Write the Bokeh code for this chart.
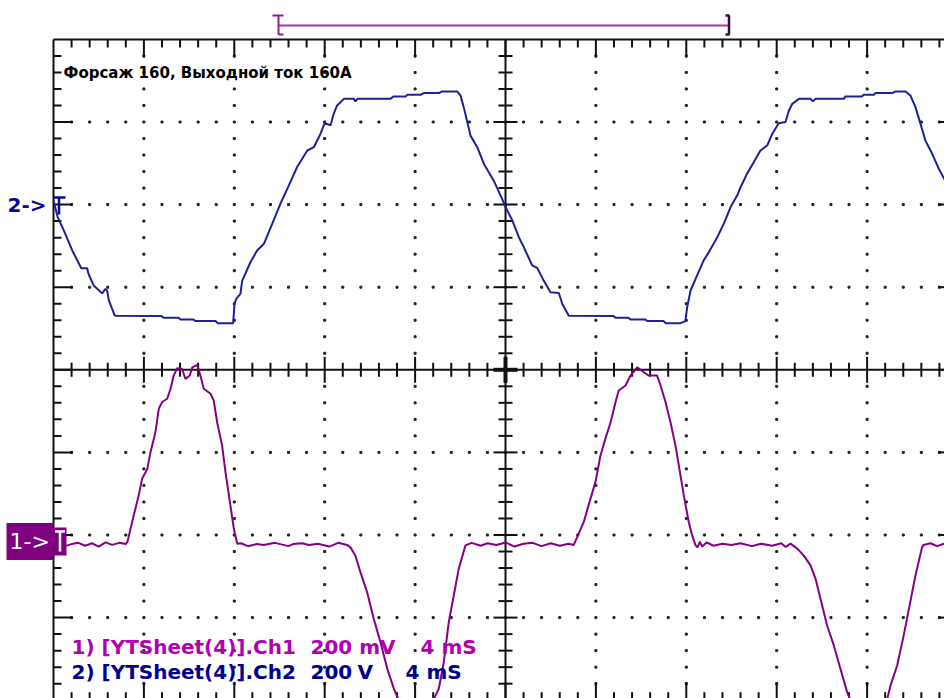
from bokeh.plotting import figure
from bokeh.models import Range1d
from bokeh.core.properties import value
from bokeh.embed import file_html
from bokeh.resources import INLINE

# ---------------- channel data ----------------
# Ch2: output voltage, 200 V/div, time in ms (4 ms/div)
ch2_t = [0.00, 0.19, 0.46, 0.83, 1.23, 1.49, 1.55, 1.78, 2.15, 2.30, 2.37, 2.45, 2.71,
         4.78, 4.87, 5.53, 5.62, 6.19, 6.28, 7.17, 7.26, 7.95,
         8.01, 8.10, 8.27, 8.35, 8.72, 9.01, 9.31, 9.68, 10.04, 10.41, 10.78, 11.23,
         11.52, 11.81, 12.00, 12.26, 12.40, 12.55, 12.85, 13.29, 13.36, 13.45, 14.91,
         15.04, 15.58, 15.66, 16.24, 16.39, 17.05, 17.20, 17.86,
         18.01, 18.15, 18.31, 18.45, 18.75, 19.04, 19.48, 19.85, 20.00,
         20.30, 20.59, 20.81, 21.18, 21.40, 21.69, 21.99, 22.36, 22.51, 22.80,
         24.78, 24.87, 25.44, 25.53, 26.19, 26.27, 27.00, 27.08, 27.74, 27.96,
         28.04, 28.19, 28.41, 28.77, 29.00, 29.37, 29.66, 29.96, 30.25, 30.40, 30.69,
         30.99, 31.28, 31.58, 31.80, 32.09, 32.39, 32.54, 32.69, 32.98, 33.50, 33.60,
         33.72, 34.97, 35.04, 35.78, 35.85, 36.30, 36.37, 37.11, 37.26, 37.70,
         37.92, 38.14, 38.36, 38.58, 38.88, 39.17, 39.42, 39.69]
ch2_v = [10, -31, -63, -111, -154, -154, -168, -196, -215, -204, -208, -232, -269,
         -270, -274, -274, -278, -278, -282, -282, -287, -287,
         -240, -227, -216, -184, -139, -111, -95, -46, 2, 46, 91, 131,
         139, 171, 197, 192, 220, 240, 256, 256, 250, 256, 256,
         262, 262, 266, 266, 270, 270, 274, 274,
         264, 236, 200, 167, 139, 99, 58, 14, -6,
         -38, -79, -103, -147, -153, -184, -212, -214, -240, -269,
         -270, -274, -274, -278, -278, -282, -282, -287, -287, -282,
         -248, -208, -180, -135, -115, -79, -46, -6, 22, 42, 75,
         103, 131, 143, 171, 197, 200, 228, 244, 256, 256, 250,
         256, 256, 262, 262, 266, 266, 270, 270, 274, 274,
         264, 236, 196, 155, 123, 87, 62, 34]

# Ch1: current-sensor signal, 200 mV/div
ch1_t = [0.00, 0.30, 0.50, 0.80, 1.10, 1.40, 1.70, 2.00, 2.30, 2.60, 2.90, 3.19,
         3.27, 3.41, 3.55, 3.77, 3.92, 4.15, 4.29, 4.51, 4.66, 4.81, 5.03, 5.18,
         5.32, 5.47, 5.69, 5.84, 6.03, 6.14, 6.36, 6.50, 6.65, 6.95, 7.09, 7.24,
         7.46, 7.61, 7.83, 7.98, 8.13,
         8.30, 8.60, 9.00, 9.30, 9.80, 10.40, 10.60, 11.00, 11.30, 11.70, 12.20,
         12.60, 12.99,
         13.14, 13.36, 13.58, 13.88, 14.17, 14.47, 14.77, 15.06, 15.28, 16.02,
         16.83, 17.05, 17.27, 17.49, 17.71, 17.93, 18.23,
         18.50, 18.90, 19.20, 19.60, 20.00, 20.40, 20.80, 21.20, 21.60, 22.00,
         22.40, 22.80, 23.02,
         23.17, 23.46, 23.76, 23.98, 24.20, 24.42, 24.65, 24.87, 25.01, 25.31,
         25.53, 25.83, 26.12, 26.34, 26.71, 26.86, 27.08, 27.30, 27.52, 27.67,
         27.89, 28.11, 28.26, 28.41,
         28.50, 28.60, 28.70, 28.90, 29.20, 29.60, 30.00, 30.40, 30.90, 31.30,
         31.80, 32.20, 32.40, 32.61,
         32.91, 33.20, 33.50, 33.72, 33.94, 34.23, 34.53, 34.82, 35.12, 35.27,
         36.06, 36.89, 37.04, 37.33, 37.62, 37.85, 38.14, 38.43, 38.50,
         38.80, 39.10, 39.40, 39.60]
ch1_mv = [0, 3, -3, 2, 5, -2, 4, -4, 6, 0, 5, 2,
          7, 39, 71, 120, 160, 184, 224, 273, 330, 346, 354, 378,
          410, 428, 426, 402, 410, 430, 436, 410, 378, 366, 350, 297,
          241, 176, 95, 39, 3,
          4, -3, 2, 0, 5, -3, 2, 4, 0, 3, -4,
          5, 0,
          -6, -26, -66, -115, -179, -236, -300, -348, -377, -449,
          -373, -348, -284, -187, -123, -58, -1,
          5, -2, 4, 0, 6, -4, 3, 5, -3, 4,
          -2, 3, 0,
          19, 55, 112, 152, 216, 257, 297, 346, 374, 386,
          410, 430, 418, 410, 410, 386, 346, 297, 241, 192,
          120, 55, 23, -1,
          -6, 8, -4, 6, -2, 3, 0, 4, -3, 3,
          -2, 4, -5, 3,
          -9, -26, -50, -82, -131, -195, -244, -300, -357, -377,
          -449, -373, -340, -292, -219, -155, -74, -6, 0,
          4, -3, 3, 0]

# channel settings
MS_PER_DIV = 4.0
CH1_MV_PER_DIV, CH1_OFFSET_DIV = 200.0, -2.12
CH2_V_PER_DIV, CH2_OFFSET_DIV = 200.0, 2.0

TITLE = "Форсаж 160, Выходной ток 160А"
LEGEND_1 = ["1) [YTSheet(4)].Ch1", "200 mV", "4 mS"]
LEGEND_2 = ["2) [YTSheet(4)].Ch2", "200", "V", "4 mS"]

# ---------------- screen geometry ----------------
W, H = 944, 698
LEFT_PX = 53.0        # left edge of graticule
CENTER_Y_PX = 369.3   # horizontal centre line
PX_PER_MS = 22.6
PX_PER_DIV_Y = 82.6


def sx(px):
    """canvas x pixel -> time (ms)"""
    return (px - LEFT_PX) / PX_PER_MS


def sy(px):
    """canvas y pixel -> vertical divisions"""
    return (CENTER_Y_PX - px) / PX_PER_DIV_Y


def lx(px):
    return px / PX_PER_MS


def ly(px):
    return px / PX_PER_DIV_Y


p = figure(width=W, height=H, output_backend="svg", toolbar_location=None,
           x_range=Range1d(sx(0), sx(W)), y_range=Range1d(sy(H), sy(0)),
           x_axis_location=None, y_axis_location=None, min_border=0,
           background_fill_color="white", border_fill_color="white")
p.outline_line_color = None
p.grid.visible = False

X_END = 10 * MS_PER_DIV
INK = "#111111"

# ---------------- graticule ----------------
# dotted grid lines
dx, dy = [], []
for yd in (-3, -2, -1, 1, 2, 3):
    for k in range(1, 50):
        dx.append(k * MS_PER_DIV / 5)
        dy.append(yd)
for xd in (1, 2, 3, 4, 6, 7, 8, 9):
    for j in range(-19, 20):
        if j % 5:
            dx.append(xd * MS_PER_DIV)
            dy.append(j / 5)
p.rect(dx, dy, width=2, height=2, width_units="screen", height_units="screen",
       color="#222222")

# borders and centre axes
p.segment(x0=[0, 0, X_END, 0, 0, X_END / 2], y0=[-4, 4, -4, -4, 0, -4],
          x1=[0, X_END, X_END, X_END, X_END, X_END / 2], y1=[4, 4, 4, -4, 0, 4],
          line_color=INK, line_width=2)

sx0, sy0, sx1, sy1 = [], [], [], []
# ticks along vertical edges and vertical centre line
for j in range(-19, 20):
    yv = j / 5
    major = j % 5 == 0
    L = 19 if major else 8
    # left border
    sx0.append(0); sy0.append(yv); sx1.append(lx(L)); sy1.append(yv)
    # right border
    sx0.append(X_END); sy0.append(yv); sx1.append(X_END - lx(L)); sy1.append(yv)
    # vertical centre line
    if j != 0:
        c = 12 if major else 7
        sx0.append(X_END / 2 - lx(c)); sy0.append(yv)
        sx1.append(X_END / 2 + lx(c)); sy1.append(yv)
# ticks along horizontal edges and horizontal centre line
for k in range(1, 50):
    xv = k * MS_PER_DIV / 5
    major = k % 5 == 0
    L = 18 if major else 8
    sx0.append(xv); sy0.append(4); sx1.append(xv); sy1.append(4 - ly(L))
    sx0.append(xv); sy0.append(-4); sx1.append(xv); sy1.append(-4 + ly(L))
    c = 13 if major else 7
    sx0.append(xv); sy0.append(-ly(c)); sx1.append(xv); sy1.append(ly(c))
p.segment(x0=sx0, y0=sy0, x1=sx1, y1=sy1, line_color=INK, line_width=2)
# heavier cross at the centre
p.segment(x0=[X_END / 2 - lx(12), X_END / 2], y0=[0, -ly(13)],
          x1=[X_END / 2 + lx(12), X_END / 2], y1=[0, ly(13)],
          line_color=INK, line_width=4)

# ---------------- traces ----------------
ch2_y = [CH2_OFFSET_DIV + v / CH2_V_PER_DIV for v in ch2_v]
ch1_y = [CH1_OFFSET_DIV + v / CH1_MV_PER_DIV for v in ch1_mv]
BLUE = "#1f1f99"
PURPLE = "#850085"
p.line(ch2_t, ch2_y, line_color=BLUE, line_width=2)
p.line(ch1_t, ch1_y, line_color=PURPLE, line_width=2)

# ---------------- channel markers ----------------
# channel 2 ground marker
p.text(x=[sx(7)], y=[CH2_OFFSET_DIV], text=["2->"], text_color="#0a0a8c",
       text_font=value("DejaVu Sans"), text_font_style="bold", text_font_size="20px",
       text_baseline="middle", text_align="left")
p.segment(x0=[sx(53), sx(58.5)], y0=[sy(197), sy(197)],
          x1=[sx(65), sx(58.5)], y1=[sy(197), sy(214)],
          line_color="#0a0a8c", line_width=2.5)

# channel 1 ground marker
p.quad(left=[sx(6)], right=[sx(53)], top=[sy(522.5)], bottom=[sy(559.5)],
       fill_color="#800080", line_color=None)
p.quad(left=[sx(53)], right=[sx(66)], top=[sy(527)], bottom=[sy(555)],
       fill_color="#800080", line_color=None)
p.text(x=[sx(9)], y=[sy(541)], text=["1->"], text_color="white",
       text_font=value("DejaVu Sans"), text_font_size="22px",
       text_baseline="middle", text_align="left")
p.segment(x0=[sx(54.5), sx(59.5)], y0=[sy(531), sy(531)],
          x1=[sx(64.5), sx(59.5)], y1=[sy(531), sy(551)],
          line_color="white", line_width=2.5)

# trigger window bar above the screen
p.segment(x0=[sx(278)], y0=[sy(25)], x1=[sx(728)], y1=[sy(25)],
          line_color="#a03aa0", line_width=2)
p.segment(x0=[sx(278), sx(272), sx(278)], y0=[sy(15), sy(15), sy(34)],
          x1=[sx(278), sx(283), sx(283)], y1=[sy(34), sy(15), sy(34)],
          line_color="#8a208a", line_width=2)
p.segment(x0=[sx(728.5), sx(725), sx(725)], y0=[sy(15), sy(15), sy(34)],
          x1=[sx(728.5), sx(729), sx(729)], y1=[sy(34), sy(15), sy(34)],
          line_color="#3a0a3a", line_width=2.5)

# ---------------- texts ----------------
p.text(x=[sx(63)], y=[sy(72)], text=[TITLE], text_color="black",
       text_font=value("DejaVu Sans"), text_font_style="bold", text_font_size="15px",
       text_baseline="middle", text_align="left")

FONT = value("DejaVu Sans")
p.text(x=[sx(71), sx(310), sx(420)], y=[sy(646)] * 3, text=LEGEND_1,
       text_color="#b000b0", text_font=FONT, text_font_style="bold",
       text_font_size="20px", text_baseline="middle", text_align="left")
p.text(x=[sx(71), sx(310), sx(357), sx(405)], y=[sy(671)] * 4, text=LEGEND_2,
       text_color="#00008f", text_font=FONT, text_font_style="bold",
       text_font_size="20px", text_baseline="middle", text_align="left")

open("out.html", "w").write(file_html(p, INLINE))
